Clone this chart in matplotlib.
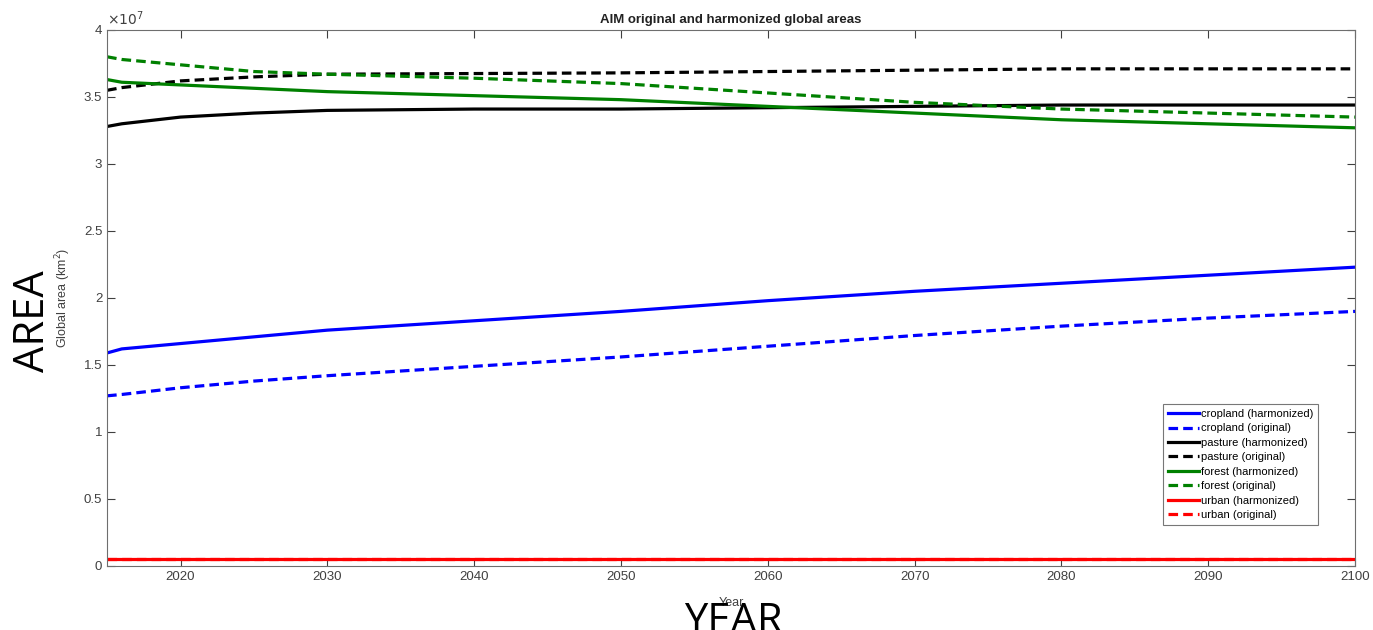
import matplotlib
matplotlib.use("Agg")
import matplotlib.pyplot as plt
from matplotlib.ticker import FuncFormatter

years = [2015, 2016, 2020, 2025, 2030, 2040, 2050, 2060, 2070, 2080, 2090, 2100]

# global areas, in units of 1e7 km2
crop_harm = [1.59, 1.62, 1.66, 1.71, 1.76, 1.83, 1.90, 1.98, 2.05, 2.11, 2.17, 2.23]
crop_orig = [1.27, 1.28, 1.33, 1.38, 1.42, 1.49, 1.56, 1.64, 1.72, 1.79, 1.85, 1.90]
past_harm = [3.28, 3.30, 3.35, 3.38, 3.40, 3.41, 3.41, 3.42, 3.43, 3.44, 3.44, 3.44]
past_orig = [3.55, 3.57, 3.62, 3.65, 3.67, 3.675, 3.68, 3.69, 3.70, 3.71, 3.71, 3.71]
forest_harm = [3.63, 3.61, 3.59, 3.565, 3.54, 3.51, 3.48, 3.43, 3.38, 3.33, 3.30, 3.27]
forest_orig = [3.80, 3.78, 3.74, 3.69, 3.67, 3.64, 3.60, 3.53, 3.46, 3.41, 3.38, 3.35]
urban_harm = [0.05] * len(years)
urban_orig = [0.05] * len(years)

series = [
    ("cropland (harmonized)", crop_harm, "#0000ff", "-"),
    ("cropland (original)", crop_orig, "#0000ff", "--"),
    ("pasture (harmonized)", past_harm, "#000000", "-"),
    ("pasture (original)", past_orig, "#000000", "--"),
    ("forest (harmonized)", forest_harm, "#008000", "-"),
    ("forest (original)", forest_orig, "#008000", "--"),
    ("urban (harmonized)", urban_harm, "#ff0000", "-"),
    ("urban (original)", urban_orig, "#ff0000", "--"),
]

plt.rcParams["font.family"] = ["Liberation Sans", "DejaVu Sans"]
grey = "#404040"

fig = plt.figure(figsize=(13.73, 6.3), dpi=100)
ax = fig.add_axes([0.078, 0.1016, 0.909, 0.8508])
for label, vals, col, ls in series:
    ax.plot(years, [v * 1e7 for v in vals], color=col,
            linestyle=ls if ls == "-" else (0, (3, 1.6)), lw=2.3, label=label)

ax.set_xlim(2015, 2100)
ax.set_ylim(0, 4e7)
ax.set_xticks(range(2020, 2101, 10))
ax.set_yticks([i * 0.5e7 for i in range(9)])
# matlab style: plain tick numbers, exponent shown once above the axis
ax.yaxis.set_major_formatter(FuncFormatter(lambda v, _: f"{v / 1e7:g}"))
ax.text(0.0, 1.004, r"$\times10^{7}$", transform=ax.transAxes, fontsize=10,
        color=grey, ha="left", va="bottom")
ax.tick_params(direction="in", top=True, right=True, labelsize=9.5,
               colors=grey, length=6, width=0.8)
for s in ax.spines.values():
    s.set_color("#6e6e6e")
    s.set_linewidth(0.8)

ax.set_title("AIM original and harmonized global areas", fontsize=9.5,
             fontweight="bold", color="#222222", pad=5)
ax.set_ylabel("Global area (km$^2$)", fontsize=9, color=grey, labelpad=8)
ax.set_xlabel("Year", fontsize=9, color=grey, labelpad=10)

leg = ax.legend(loc="lower right", bbox_to_anchor=(0.975, 0.066), fontsize=8,
                frameon=True, fancybox=False, handlelength=2.8,
                handletextpad=0.2, labelspacing=0.4, borderpad=0.45)
leg.get_frame().set_edgecolor("#555555")
leg.get_frame().set_linewidth(0.8)

fig.text(0.024, 0.49, "AREA", rotation=90, fontsize=30, family="Open Sans",
         ha="center", va="center", color="black")
fig.text(0.534, -0.02, "YEAR", fontsize=30, family="Open Sans",
         ha="center", va="bottom", color="black")

fig.savefig("out.png", dpi=100)
